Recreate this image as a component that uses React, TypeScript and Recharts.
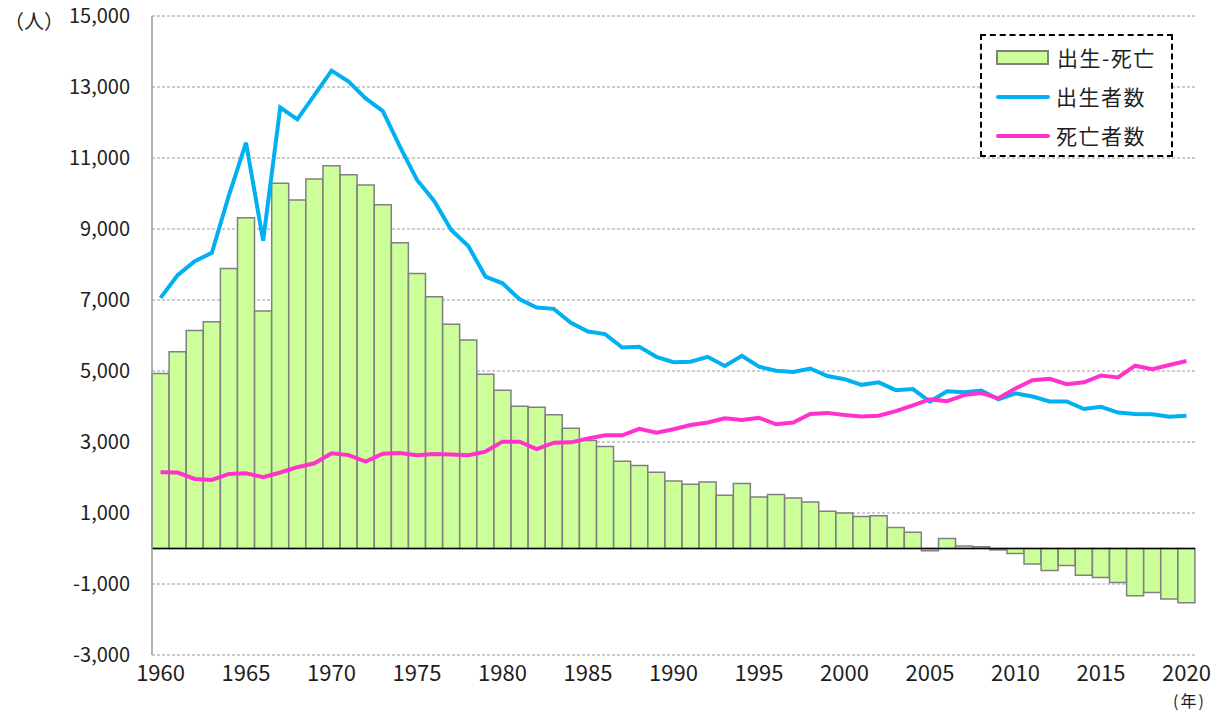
import { ComposedChart, Bar, Line, XAxis, YAxis, CartesianGrid, ReferenceLine } from "recharts";

const years = Array.from({ length: 61 }, (_, i) => 1960 + i);

// 出生-死亡 (人)
const naturalChange = [
  4930, 5540, 6140, 6390, 7890, 9320, 6690, 10290, 9820, 10410,
  10780, 10530, 10240, 9680, 8610, 7750, 7090, 6320, 5870, 4910,
  4460, 4010, 3980, 3770, 3390, 3040, 2870, 2460, 2340, 2150,
  1900, 1810, 1870, 1500, 1830, 1450, 1520, 1420, 1310, 1050,
  1000, 900, 920, 590, 460, -60, 280, 70, 50, -40,
  -140, -440, -620, -480, -750, -820, -960, -1330, -1240, -1420, -1530,
];

// 出生者数
const births = [
  7060, 7700, 8090, 8330, 9950, 11430, 8670, 12420, 12090, 12770,
  13460, 13150, 12680, 12320, 11320, 10380, 9790, 8970, 8520, 7660,
  7470, 7020, 6790, 6750, 6360, 6110, 6040, 5660, 5680, 5400,
  5250, 5260, 5400, 5140, 5430, 5120, 5010, 4970, 5070, 4860,
  4770, 4610, 4680, 4460, 4490, 4140, 4430, 4400, 4450, 4200,
  4370, 4280, 4140, 4140, 3930, 3990, 3830, 3790, 3780, 3710, 3740,
];

// 死亡者数
const deaths = [
  2150, 2140, 1960, 1930, 2100, 2120, 2010, 2140, 2290, 2400,
  2680, 2630, 2450, 2670, 2690, 2630, 2660, 2650, 2630, 2730,
  3010, 3010, 2800, 2980, 2990, 3100, 3190, 3190, 3370, 3260,
  3360, 3480, 3550, 3670, 3620, 3680, 3500, 3550, 3790, 3820,
  3760, 3720, 3740, 3870, 4030, 4200, 4150, 4320, 4380, 4230,
  4510, 4740, 4780, 4630, 4680, 4870, 4820, 5150, 5050, 5170, 5280,
];

const yTicks = [-3000, -1000, 1000, 3000, 5000, 7000, 9000, 11000, 13000, 15000];

const FONT = "'Noto Sans CJK JP', 'Noto Sans', sans-serif";
const TEXT = "#1e1e1e";
const GREEN = "#CCFF99";
const BLUE = "#00B0F0";
const PINK = "#FF33CC";

const rows = years.map((y, i) => ({
  year: y,
  diff: naturalChange[i],
  births: births[i],
  deaths: deaths[i],
}));

const legendItems = [
  { label: "出生-死亡", kind: "bar", color: GREEN },
  { label: "出生者数", kind: "line", color: BLUE },
  { label: "死亡者数", kind: "line", color: PINK },
];

// legend drawn as an overlay box so it doesn't eat plot space
function LegendBox() {
  return (
    <div
      style={{
        position: "absolute",
        left: 980,
        top: 34,
        width: 193,
        height: 123,
        border: "2px dashed #000",
        background: "#fff",
        fontFamily: FONT,
        fontSize: 21,
        color: TEXT,
        paddingTop: 2,
        boxSizing: "border-box",
        lineHeight: 1,
      }}
    >
      {legendItems.map((it) => (
        <div key={it.label} style={{ display: "flex", alignItems: "center", height: 39, paddingLeft: 14 }}>
          {it.kind === "bar" ? (
            <div style={{ width: 49, height: 11, background: it.color, border: "2px solid #808080", marginRight: 8 }} />
          ) : (
            <div style={{ width: 54, height: 4, borderRadius: 2, background: it.color, marginRight: 6 }} />
          )}
          <span style={{ letterSpacing: 1.5 }}>{it.label}</span>
        </div>
      ))}
    </div>
  );
}

export default function App() {
  return (
    <div style={{ position: "absolute", left: 0, top: 0, width: 1219, height: 712, background: "#fff", fontFamily: FONT }}>
      <ComposedChart
        width={1219}
        height={712}
        data={rows}
        barCategoryGap={0}
        margin={{ top: 16, right: 24, left: 0, bottom: 0 }}
      >
        <CartesianGrid vertical={false} stroke="#9a9a9a" strokeDasharray="3 2" />
        <XAxis
          dataKey="year"
          interval={0}
          axisLine={false}
          tickLine={false}
          height={57}
          tickMargin={4}
          tick={{ fontSize: 22, fill: TEXT, fontFamily: FONT }}
          tickFormatter={(v: number) => (v % 5 === 0 ? String(v) : "")}
        />
        <YAxis
          type="number"
          domain={[-3000, 15000]}
          ticks={yTicks}
          width={152}
          axisLine={{ stroke: "#999", strokeWidth: 1.5 }}
          tickLine={false}
          tickMargin={16}
          tick={{ fontSize: 20, fill: TEXT, fontFamily: FONT }}
          tickFormatter={(v: number) => v.toLocaleString("en-US")}
        />
        <Bar dataKey="diff" name="出生-死亡" fill={GREEN} stroke="#808080" strokeWidth={1.5} isAnimationActive={false} />
        <ReferenceLine y={0} stroke="#000" strokeWidth={1.5} />
        <Line type="linear" dataKey="births" name="出生者数" stroke={BLUE} strokeWidth={4} dot={false} isAnimationActive={false} />
        <Line type="linear" dataKey="deaths" name="死亡者数" stroke={PINK} strokeWidth={4} dot={false} isAnimationActive={false} />
      </ComposedChart>
      <LegendBox />
      <div style={{ position: "absolute", left: 4, top: 6, fontSize: 20, color: TEXT }}>（人）</div>
      <div style={{ position: "absolute", left: 1173, top: 692, fontSize: 16, color: TEXT, letterSpacing: 2, lineHeight: 1 }}>(年)</div>
    </div>
  );
}
